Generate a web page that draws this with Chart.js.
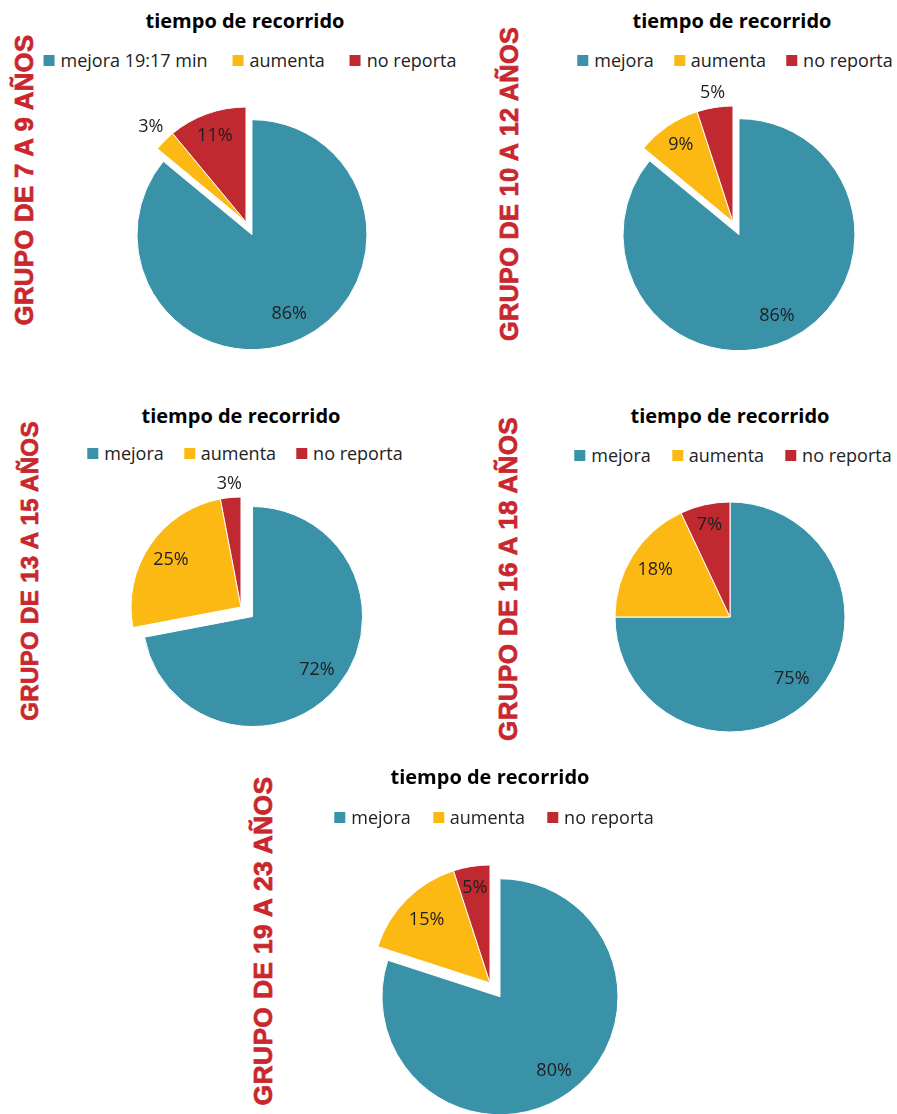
<!DOCTYPE html>
<html lang="es">
<head>
<meta charset="utf-8">
<title>tiempo de recorrido</title>
<script src="https://cdn.jsdelivr.net/npm/chart.js@4.4.1/dist/chart.umd.min.js"></script>
<style>
  html, body { margin: 0; padding: 0; background: #fff; }
  #page { position: relative; width: 897px; height: 1114px; overflow: hidden; font-family: "Open Sans", sans-serif; }
  .title { position: absolute; transform: translate(-50%, -50%); font-weight: 700; font-size: 20px; color: #000; white-space: nowrap; }
  .legend { position: absolute; transform: translate(-50%, -50%); display: flex; font-size: 18px; color: #222; white-space: nowrap; }
  .legend .item { display: flex; align-items: center; gap: 6px; }
  .legend i { display: inline-block; width: 11px; height: 11px; }
  .group { position: absolute; transform: translate(-50%, -50%) rotate(-90deg); font-family: "Liberation Sans", Arial, sans-serif; font-weight: 700; color: #c9262d; white-space: nowrap; -webkit-text-stroke: 0.7px #c9262d; letter-spacing: 0.3px; }
  canvas { position: absolute; }
</style>
</head>
<body>
<div id="page"></div>
<script>
const chartTitle = "tiempo de recorrido";
const categories = ["mejora", "aumenta", "no reporta"];
const categoriesFirst = ["mejora 19:17 min", "aumenta", "no reporta"];
const groupNames = [
  "GRUPO DE 7 A 9 AÑOS",
  "GRUPO DE 10 A 12 AÑOS",
  "GRUPO DE 13 A 15 AÑOS",
  "GRUPO DE 16 A 18 AÑOS",
  "GRUPO DE 19 A 23 AÑOS"
];
const group7to9 = [86, 3, 11];
const group10to12 = [86, 9, 5];
const group13to15 = [72, 25, 3];
const group16to18 = [75, 18, 7];
const group19to23 = [80, 15, 5];

const sliceColors = ["#3a92a8", "#fdb913", "#c0292f"];
const CANVAS_SIZE = 300;

// layout of each small chart (pie centre, radius, explode of first slice in px, text spots)
const panels = [
  { values: group7to9, legend: categoriesFirst, group: groupNames[0],
    cx: 246, cy: 222, radius: 115, explode: 14, labelAt: [0.76, 1.17, 0.8],
    titleX: 245, titleY: 20, legendX: 250, legendY: 60, legendGap: 25,
    groupX: 24, groupY: 180, groupSize: 25.8 },
  { values: group10to12, legend: categories, group: groupNames[1],
    cx: 733, cy: 222, radius: 116, explode: 14, labelAt: [0.77, 0.8, 1.13],
    titleX: 732, titleY: 20, legendX: 735, legendY: 60, legendGap: 20,
    groupX: 509, groupY: 184, groupSize: 25.3 },
  { values: group13to15, legend: categories, group: groupNames[2],
    cx: 241, cy: 607, radius: 110, explode: 15, labelAt: [0.76, 0.77, 1.12],
    titleX: 241, titleY: 415, legendX: 245, legendY: 453, legendGap: 20,
    groupX: 30, groupY: 571, groupSize: 24.1 },
  { values: group16to18, legend: categories, group: groupNames[3],
    cx: 730, cy: 617, radius: 115, explode: 0, labelAt: [0.76, 0.77, 0.82],
    titleX: 730, titleY: 415, legendX: 733, legendY: 455, legendGap: 21,
    groupX: 508, groupY: 579, groupSize: 26.1 },
  { values: group19to23, legend: categories, group: groupNames[4],
    cx: 490, cy: 983, radius: 118, explode: 17, labelAt: [0.78, 0.76, 0.82],
    titleX: 490, titleY: 776, legendX: 494, legendY: 817, legendGap: 22,
    groupX: 263, groupY: 941, groupSize: 26.5 }
];

// pulls the first slice out of the pie along its own bisector, like Excel's point explosion
const explodeSlice = {
  id: "explodeSlice",
  afterUpdate(chart, args, opts) {
    if (!opts.distance) return;
    const arc = chart.getDatasetMeta(0).data[0];
    const mid = (arc.startAngle + arc.endAngle) / 2;
    arc.x += Math.cos(mid) * opts.distance;
    arc.y += Math.sin(mid) * opts.distance;
  }
};

const percentLabels = {
  id: "percentLabels",
  afterDatasetsDraw(chart, args, opts) {
    const ctx = chart.ctx;
    const meta = chart.getDatasetMeta(0);
    const values = chart.data.datasets[0].data;
    ctx.save();
    ctx.font = "18px 'Open Sans', sans-serif";
    ctx.fillStyle = "#1f1f1f";
    ctx.textAlign = "center";
    ctx.textBaseline = "middle";
    meta.data.forEach((arc, i) => {
      const mid = (arc.startAngle + arc.endAngle) / 2;
      const dist = opts.labelAt[i] * arc.outerRadius;
      ctx.fillText(values[i] + "%", arc.x + Math.cos(mid) * dist, arc.y + Math.sin(mid) * dist);
    });
    ctx.restore();
  }
};

function addText(cls, text, x, y, extra) {
  const el = document.createElement("div");
  el.className = cls;
  el.textContent = text;
  el.style.left = x + "px";
  el.style.top = y + "px";
  if (extra) Object.assign(el.style, extra);
  document.getElementById("page").appendChild(el);
  return el;
}

function addLegend(panel) {
  const box = document.createElement("div");
  box.className = "legend";
  box.style.left = panel.legendX + "px";
  box.style.top = panel.legendY + "px";
  box.style.gap = panel.legendGap + "px";
  panel.legend.forEach((name, i) => {
    const item = document.createElement("span");
    item.className = "item";
    item.innerHTML = `<i style="background:${sliceColors[i]}"></i><span>${name}</span>`;
    box.appendChild(item);
  });
  document.getElementById("page").appendChild(box);
}

function drawPanel(panel) {
  addText("title", chartTitle, panel.titleX, panel.titleY);
  addLegend(panel);
  addText("group", panel.group, panel.groupX, panel.groupY, { fontSize: panel.groupSize + "px" });

  const canvas = document.createElement("canvas");
  canvas.width = CANVAS_SIZE;
  canvas.height = CANVAS_SIZE;
  canvas.style.left = (panel.cx - CANVAS_SIZE / 2) + "px";
  canvas.style.top = (panel.cy - CANVAS_SIZE / 2) + "px";
  document.getElementById("page").appendChild(canvas);

  new Chart(canvas, {
    type: "pie",
    data: {
      labels: panel.legend,
      datasets: [{
        data: panel.values,
        backgroundColor: sliceColors,
        borderColor: "#ffffff",
        borderWidth: 1,
        radius: panel.radius,
        clip: false
      }]
    },
    options: {
      responsive: false,
      animation: false,
      events: [],
      layout: { padding: 0 },
      plugins: {
        legend: { display: false },
        tooltip: { enabled: false },
        explodeSlice: { distance: panel.explode },
        percentLabels: { labelAt: panel.labelAt }
      }
    },
    plugins: [explodeSlice, percentLabels]
  });
}

panels.forEach(drawPanel);
</script>
</body>
</html>
